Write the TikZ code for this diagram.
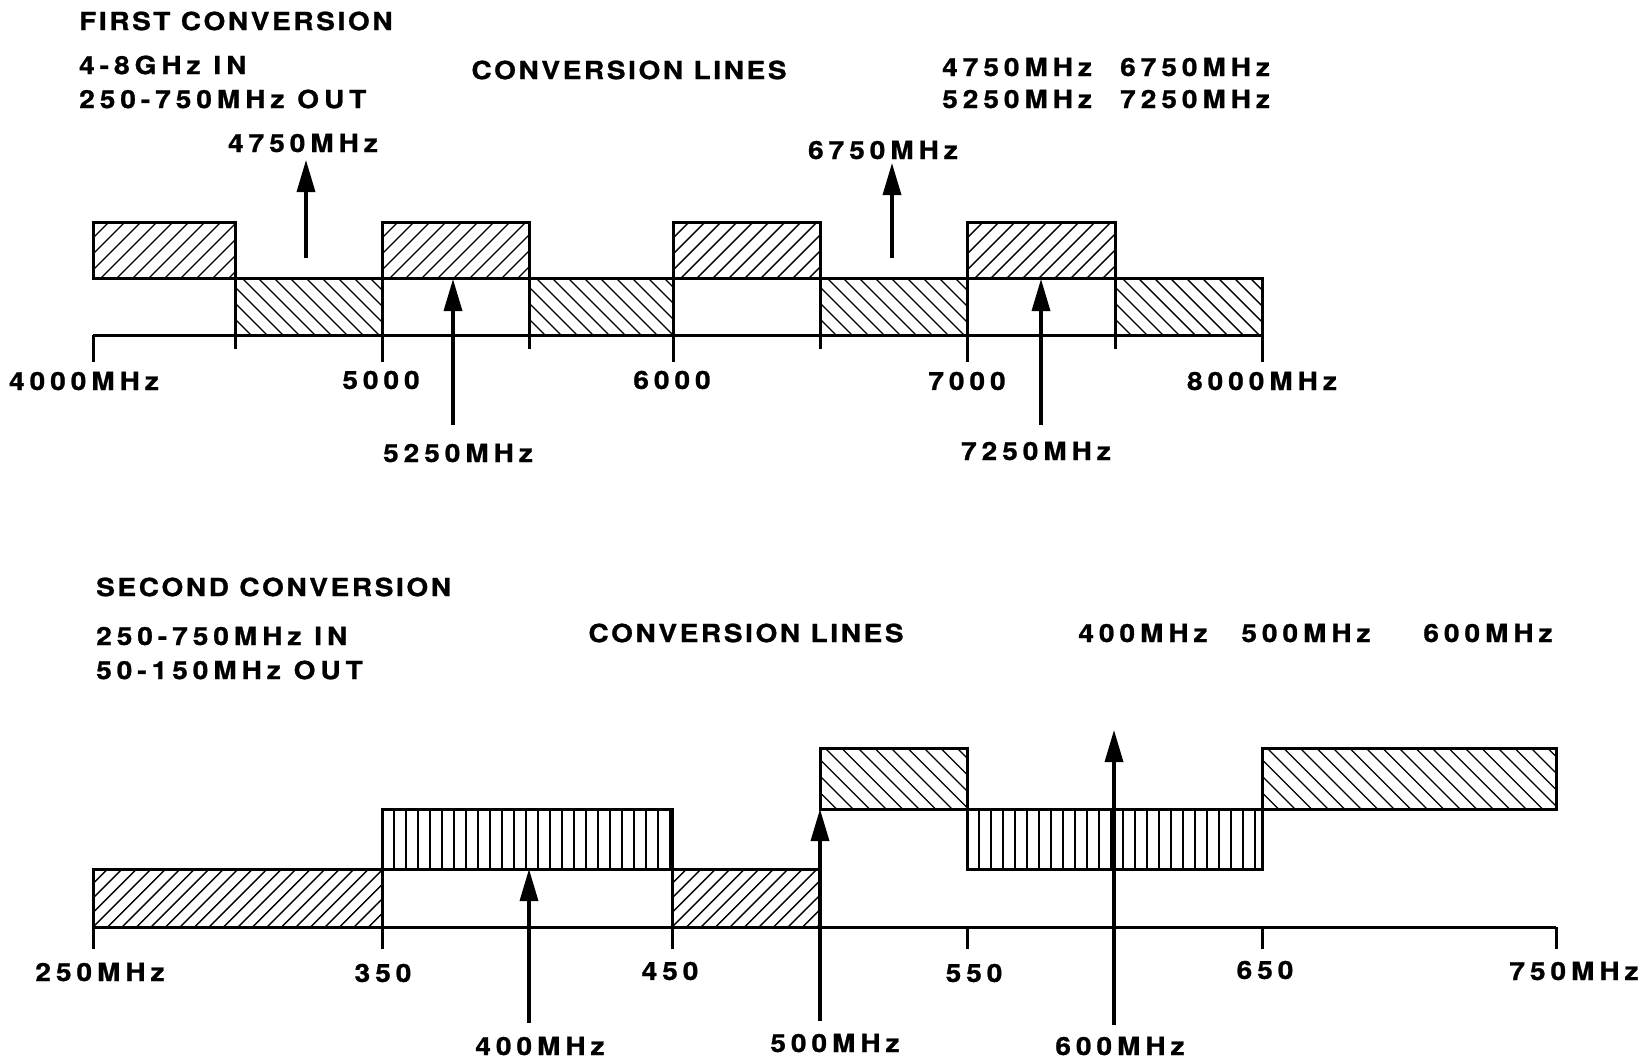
\documentclass[tikz,border=0pt]{standalone}
\usepackage{fontspec}
\usetikzlibrary{arrows.meta}
\newfontfamily\lblf{TeX Gyre Heros}[FakeStretch=1.12, LetterSpace=10.5, FakeBold=1]
\newfontfamily\numf{TeX Gyre Heros}[FakeStretch=1.12, LetterSpace=20, FakeBold=1]
\newcommand\HatchNE[5]{%
  \begin{scope}
  \clip (#1,#2) rectangle (#3,#4);
  \pgfmathsetmacro\hhh{#4-#2}
  \pgfmathsetmacro\xs{#1-\hhh}
  \pgfmathsetmacro\xn{\xs+#5}
  \foreach \xx in {\xs,\xn,...,#3} \draw[hatch] (\xx,#4) -- ++(\hhh,-\hhh);
  \end{scope}}
\newcommand\HatchNW[5]{%
  \begin{scope}
  \clip (#1,#2) rectangle (#3,#4);
  \pgfmathsetmacro\hhh{#4-#2}
  \pgfmathsetmacro\xs{#1-\hhh}
  \pgfmathsetmacro\xn{\xs+#5}
  \foreach \xx in {\xs,\xn,...,#3} \draw[hatch] (\xx,#2) -- ++(\hhh,\hhh);
  \end{scope}}
\newcommand\HatchV[5]{%
  \begin{scope}
  \clip (#1,#2) rectangle (#3,#4);
  \pgfmathtruncatemacro\xs{#1+#5}
  \pgfmathtruncatemacro\xn{\xs+#5}
  \foreach \xx in {\xs,\xn,...,#3} \draw[hatch] (\xx,#2) -- (\xx,#4);
  \end{scope}}
\begin{document}
\begin{tikzpicture}[x=1pt,y=-1pt,
  lbl/.style={inner sep=0pt, font=\lblf\bfseries\fontsize{25}{29}\selectfont},
  num/.style={inner sep=0pt, font=\numf\bfseries\fontsize{25}{29}\selectfont},
  box/.style={draw, line width=3pt},
  axisline/.style={draw, line width=3pt},
  hatch/.style={draw, line width=1.4pt},
  arr/.style={line width=3.4pt, -{Triangle[length=32pt,width=18pt]}}]
\path[use as bounding box] (0,0) rectangle (1652,1060);

% ---------------- FIRST CONVERSION ----------------
\node[lbl,anchor=west] (t1) at (79,21) {FIRST CONVERSION};
\node[num,anchor=west] (t1in) at (79,65) {4-8GHz IN};
\node[num,anchor=west] (t1out) at (79,99) {250-750MHz OUT};
\node[lbl] (t1cl) at (629,70) {CONVERSION LINES};
\node[num,anchor=west] (t1a) at (942,67) {4750MHz};
\node[num,anchor=west] (t1b) at (1120,67) {6750MHz};
\node[num,anchor=west] (t1c) at (942,99) {5250MHz};
\node[num,anchor=west] (t1d) at (1120,99) {7250MHz};

% bands: hatching
\HatchNE{93}{222}{235}{278}{16}
\HatchNE{382}{222}{529}{278}{16}
\HatchNE{673}{222}{820}{278}{16}
\HatchNE{967}{222}{1115}{278}{16}
\HatchNW{235}{278}{382}{335}{16}
\HatchNW{529}{278}{673}{335}{16}
\HatchNW{820}{278}{967}{335}{16}
\HatchNW{1115}{278}{1262}{335}{16}
% bands: outlines
\draw[box] (93,222) rectangle (235,278);
\draw[box] (382,222) rectangle (529,278);
\draw[box] (673,222) rectangle (820,278);
\draw[box] (967,222) rectangle (1115,278);
\draw[box] (235,278) rectangle (382,335);
\draw[box] (529,278) rectangle (673,335);
\draw[box] (820,278) rectangle (967,335);
\draw[box] (1115,278) rectangle (1262,335);
% axis
\draw[axisline] (93,335) -- (1262,335);
\foreach \x in {93,382,673,967,1262} \draw[axisline] (\x,335) -- (\x,362);
\foreach \x in {235,529,820,1115} \draw[axisline] (\x,335) -- (\x,349);
% axis labels
\node[num] (f4000) at (84,381) {4000MHz};
\node[num] (f5000) at (381,380) {5000};
\node[num] (f6000) at (672,380) {6000};
\node[num] (f7000) at (967,381) {7000};
\node[num] (f8000) at (1262,381) {8000MHz};
% conversion line arrows
\coordinate (a4750t) at (306,258); \coordinate (a4750h) at (306,160);
\coordinate (a6750t) at (892,258); \coordinate (a6750h) at (892,163);
\coordinate (a5250t) at (453,425); \coordinate (a5250h) at (453,279);
\coordinate (a7250t) at (1041,425); \coordinate (a7250h) at (1041,279);
\draw[arr] (a4750t) -- (a4750h);
\draw[arr] (a6750t) -- (a6750h);
\draw[arr] (a5250t) -- (a5250h);
\draw[arr] (a7250t) -- (a7250h);
\node[num] (l4750) at (303,143) {4750MHz};
\node[num] (l6750) at (883,150) {6750MHz};
\node[num] (l5250) at (458,453) {5250MHz};
\node[num] (l7250) at (1036,451) {7250MHz};

% ---------------- SECOND CONVERSION ----------------
\node[lbl,anchor=west] (t2) at (96,587) {SECOND CONVERSION};
\node[num,anchor=west] (t2in) at (96,636) {250-750MHz IN};
\node[num,anchor=west] (t2out) at (96,670) {50-150MHz OUT};
\node[lbl] (t2cl) at (746,633) {CONVERSION LINES};
\node[num] (t2a) at (1143,633) {400MHz};
\node[num] (t2b) at (1306,633) {500MHz};
\node[num] (t2c) at (1488,633) {600MHz};

% bands: hatching
\HatchNE{93}{869}{382}{927}{14.5}
\HatchV{382}{809}{672}{869}{12}
\HatchNE{672}{869}{820}{927}{14.5}
\HatchNW{820}{748}{967}{809}{16.5}
\HatchV{967}{809}{1262}{869}{12}
\HatchNW{1262}{748}{1556}{809}{16.5}
% bands: outlines
\draw[box] (93,869) rectangle (382,927);
\draw[box] (382,809) rectangle (672,869);
\draw[box] (672,869) rectangle (820,927);
\draw[box] (820,748) rectangle (967,809);
\draw[box] (967,809) rectangle (1262,869);
\draw[box] (1262,748) rectangle (1556,809);
% axis
\draw[axisline] (93,927) -- (1556,927);
\foreach \x in {93,382,672,967,1262,1556} \draw[axisline] (\x,927) -- (\x,949);
% axis labels
\node[num] (g250) at (100,972) {250MHz};
\node[num] (g350) at (383,973) {350};
\node[num] (g450) at (670,971) {450};
\node[num] (g550) at (974,973) {550};
\node[num] (g650) at (1265,970) {650};
\node[num] (g750) at (1574,971) {750MHz};
% conversion line arrows
\coordinate (b400t) at (529,1023); \coordinate (b400h) at (529,869);
\coordinate (b500t) at (820,1021); \coordinate (b500h) at (820,809);
\coordinate (b600t) at (1114,1025); \coordinate (b600h) at (1114,730);
\draw[arr] (b400t) -- (b400h);
\draw[arr] (b500t) -- (b500h);
\draw[arr] (b600t) -- (b600h);
\node[num] (l400) at (540,1046) {400MHz};
\node[num] (l500) at (835,1043) {500MHz};
\node[num] (l600) at (1120,1046) {600MHz};
\end{tikzpicture}
\end{document}
